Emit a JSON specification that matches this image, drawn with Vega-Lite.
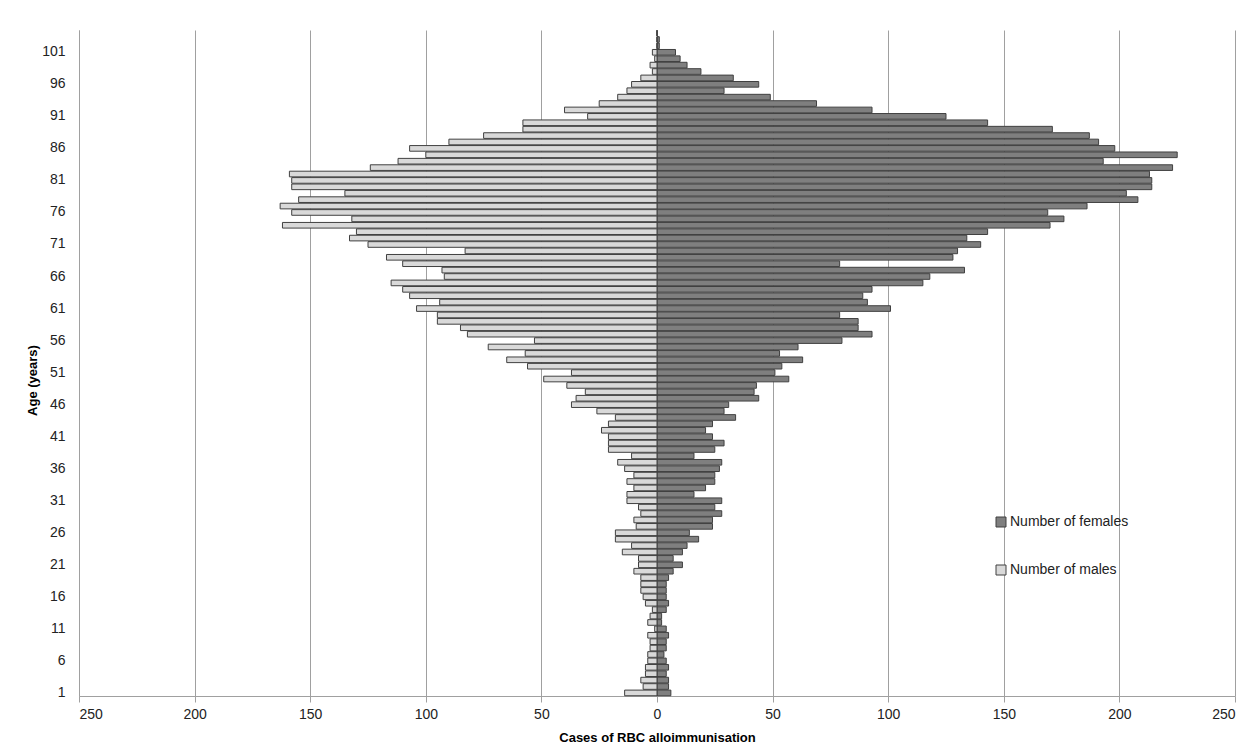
{
  "$schema": "https://vega.github.io/schema/vega-lite/v6.json",
  "width": 1156,
  "height": 666,
  "autosize": {"type": "none"},
  "padding": {"left": 79, "top": 30, "right": 15, "bottom": 56},
  "background": "white",
  "config": {
    "view": {"stroke": null},
    "font": "Liberation Sans Narrow, Arial Narrow, Liberation Sans, Arial, sans-serif"
  },
  "data": {
    "values": [
      {"age": 1, "Number of females": 6, "Number of males": -14},
      {"age": 2, "Number of females": 5, "Number of males": -6},
      {"age": 3, "Number of females": 5, "Number of males": -7},
      {"age": 4, "Number of females": 4, "Number of males": -5},
      {"age": 5, "Number of females": 5, "Number of males": -5},
      {"age": 6, "Number of females": 4, "Number of males": -4},
      {"age": 7, "Number of females": 3, "Number of males": -4},
      {"age": 8, "Number of females": 4, "Number of males": -3},
      {"age": 9, "Number of females": 4, "Number of males": -3},
      {"age": 10, "Number of females": 5, "Number of males": -4},
      {"age": 11, "Number of females": 4, "Number of males": -1},
      {"age": 12, "Number of females": 2, "Number of males": -4},
      {"age": 13, "Number of females": 2, "Number of males": -3},
      {"age": 14, "Number of females": 4, "Number of males": -2},
      {"age": 15, "Number of females": 5, "Number of males": -5},
      {"age": 16, "Number of females": 4, "Number of males": -6},
      {"age": 17, "Number of females": 4, "Number of males": -7},
      {"age": 18, "Number of females": 4, "Number of males": -7},
      {"age": 19, "Number of females": 5, "Number of males": -7},
      {"age": 20, "Number of females": 7, "Number of males": -10},
      {"age": 21, "Number of females": 11, "Number of males": -8},
      {"age": 22, "Number of females": 7, "Number of males": -8},
      {"age": 23, "Number of females": 11, "Number of males": -15},
      {"age": 24, "Number of females": 13, "Number of males": -11},
      {"age": 25, "Number of females": 18, "Number of males": -18},
      {"age": 26, "Number of females": 14, "Number of males": -18},
      {"age": 27, "Number of females": 24, "Number of males": -9},
      {"age": 28, "Number of females": 24, "Number of males": -10},
      {"age": 29, "Number of females": 28, "Number of males": -7},
      {"age": 30, "Number of females": 25, "Number of males": -8},
      {"age": 31, "Number of females": 28, "Number of males": -13},
      {"age": 32, "Number of females": 16, "Number of males": -13},
      {"age": 33, "Number of females": 21, "Number of males": -10},
      {"age": 34, "Number of females": 25, "Number of males": -13},
      {"age": 35, "Number of females": 25, "Number of males": -10},
      {"age": 36, "Number of females": 27, "Number of males": -14},
      {"age": 37, "Number of females": 28, "Number of males": -17},
      {"age": 38, "Number of females": 16, "Number of males": -11},
      {"age": 39, "Number of females": 25, "Number of males": -21},
      {"age": 40, "Number of females": 29, "Number of males": -21},
      {"age": 41, "Number of females": 24, "Number of males": -21},
      {"age": 42, "Number of females": 21, "Number of males": -24},
      {"age": 43, "Number of females": 24, "Number of males": -21},
      {"age": 44, "Number of females": 34, "Number of males": -18},
      {"age": 45, "Number of females": 29, "Number of males": -26},
      {"age": 46, "Number of females": 31, "Number of males": -37},
      {"age": 47, "Number of females": 44, "Number of males": -35},
      {"age": 48, "Number of females": 42, "Number of males": -31},
      {"age": 49, "Number of females": 43, "Number of males": -39},
      {"age": 50, "Number of females": 57, "Number of males": -49},
      {"age": 51, "Number of females": 51, "Number of males": -37},
      {"age": 52, "Number of females": 54, "Number of males": -56},
      {"age": 53, "Number of females": 63, "Number of males": -65},
      {"age": 54, "Number of females": 53, "Number of males": -57},
      {"age": 55, "Number of females": 61, "Number of males": -73},
      {"age": 56, "Number of females": 80, "Number of males": -53},
      {"age": 57, "Number of females": 93, "Number of males": -82},
      {"age": 58, "Number of females": 87, "Number of males": -85},
      {"age": 59, "Number of females": 87, "Number of males": -95},
      {"age": 60, "Number of females": 79, "Number of males": -95},
      {"age": 61, "Number of females": 101, "Number of males": -104},
      {"age": 62, "Number of females": 91, "Number of males": -94},
      {"age": 63, "Number of females": 89, "Number of males": -107},
      {"age": 64, "Number of females": 93, "Number of males": -110},
      {"age": 65, "Number of females": 115, "Number of males": -115},
      {"age": 66, "Number of females": 118, "Number of males": -92},
      {"age": 67, "Number of females": 133, "Number of males": -93},
      {"age": 68, "Number of females": 79, "Number of males": -110},
      {"age": 69, "Number of females": 128, "Number of males": -117},
      {"age": 70, "Number of females": 130, "Number of males": -83},
      {"age": 71, "Number of females": 140, "Number of males": -125},
      {"age": 72, "Number of females": 134, "Number of males": -133},
      {"age": 73, "Number of females": 143, "Number of males": -130},
      {"age": 74, "Number of females": 170, "Number of males": -162},
      {"age": 75, "Number of females": 176, "Number of males": -132},
      {"age": 76, "Number of females": 169, "Number of males": -158},
      {"age": 77, "Number of females": 186, "Number of males": -163},
      {"age": 78, "Number of females": 208, "Number of males": -155},
      {"age": 79, "Number of females": 203, "Number of males": -135},
      {"age": 80, "Number of females": 214, "Number of males": -158},
      {"age": 81, "Number of females": 214, "Number of males": -158},
      {"age": 82, "Number of females": 213, "Number of males": -159},
      {"age": 83, "Number of females": 223, "Number of males": -124},
      {"age": 84, "Number of females": 193, "Number of males": -112},
      {"age": 85, "Number of females": 225, "Number of males": -100},
      {"age": 86, "Number of females": 198, "Number of males": -107},
      {"age": 87, "Number of females": 191, "Number of males": -90},
      {"age": 88, "Number of females": 187, "Number of males": -75},
      {"age": 89, "Number of females": 171, "Number of males": -58},
      {"age": 90, "Number of females": 143, "Number of males": -58},
      {"age": 91, "Number of females": 125, "Number of males": -30},
      {"age": 92, "Number of females": 93, "Number of males": -40},
      {"age": 93, "Number of females": 69, "Number of males": -25},
      {"age": 94, "Number of females": 49, "Number of males": -17},
      {"age": 95, "Number of females": 29, "Number of males": -13},
      {"age": 96, "Number of females": 44, "Number of males": -11},
      {"age": 97, "Number of females": 33, "Number of males": -7},
      {"age": 98, "Number of females": 19, "Number of males": -2},
      {"age": 99, "Number of females": 13, "Number of males": -3},
      {"age": 100, "Number of females": 10, "Number of males": -1},
      {"age": 101, "Number of females": 8, "Number of males": -2},
      {"age": 102, "Number of females": 1, "Number of males": 0},
      {"age": 103, "Number of females": 1, "Number of males": 0},
      {"age": 104, "Number of females": 0, "Number of males": 0}
    ]
  },
  "transform": [
    {"fold": ["Number of females", "Number of males"], "as": ["sex", "cases"]}
  ],
  "mark": {"type": "bar", "stroke": "#404040", "strokeWidth": 1},
  "encoding": {
    "y": {
      "field": "age",
      "type": "ordinal",
      "sort": "descending",
      "scale": {"paddingInner": 0.12, "paddingOuter": 0.04},
      "axis": {
        "title": "Age (years)",
        "titleFontSize": 13,
        "titleFontWeight": "bold",
        "titleColor": "#000",
        "titleAngle": 270,
        "titleX": -47,
        "titleY": 350,
        "titleAlign": "center",
        "titleBaseline": "middle",
        "ticks": false,
        "labelPadding": 14,
        "labelFontSize": 14,
        "labelColor": "#222",
        "labelOverlap": false,
        "labelExpr": "(datum.value - 1) % 5 === 0 ? datum.label : ''",
        "domainColor": "#a0a0a0",
        "grid": false
      }
    },
    "x": {
      "field": "cases",
      "type": "quantitative",
      "stack": null,
      "scale": {"domain": [-250, 250], "nice": false},
      "axis": {
        "values": [-250, -200, -150, -100, -50, 0, 50, 100, 150, 200, 250],
        "labelExpr": "abs(datum.value)",
        "title": "Cases of RBC alloimmunisation",
        "titleFontSize": 13,
        "titleFontWeight": "bold",
        "titleColor": "#000",
        "titlePadding": 10,
        "grid": true,
        "gridColor": "#a0a0a0",
        "domainColor": "#a0a0a0",
        "tickColor": "#a0a0a0",
        "tickSize": 6,
        "labelFontSize": 14,
        "labelPadding": 5,
        "labelColor": "#222"
      }
    },
    "color": {
      "field": "sex",
      "type": "nominal",
      "scale": {"domain": ["Number of females", "Number of males"], "range": ["#7f7f7f", "#d9d9d9"]},
      "legend": {
        "orient": "none",
        "legendX": 915,
        "legendY": 485,
        "title": null,
        "padding": 0,
        "symbolType": "square",
        "symbolSize": 100,
        "symbolStrokeColor": "#404040",
        "symbolStrokeWidth": 1,
        "labelFontSize": 14,
        "labelColor": "#222",
        "labelOffset": 2,
        "rowPadding": 34
      }
    }
  }
}
